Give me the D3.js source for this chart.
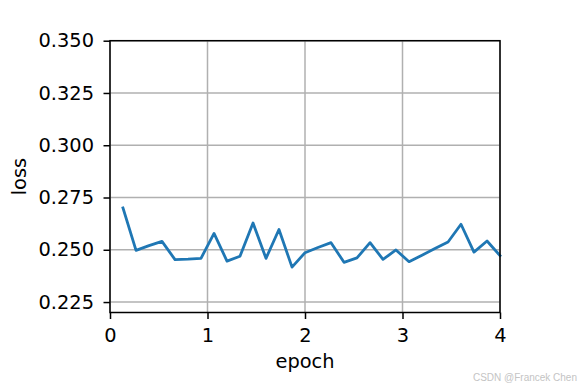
<!DOCTYPE html>
<html>
<head>
<meta charset="utf-8">
<script src="https://cdn.jsdelivr.net/npm/d3@7"></script>
<style>
  body { margin: 0; background: #fff; }
  svg { display: block; }
  text { font-family: "DejaVu Sans", sans-serif; }
</style>
</head>
<body>
<svg id="chart" width="582" height="388"></svg>
<script>
const epochs = [0.133, 0.267, 0.400, 0.533, 0.667, 0.800, 0.933, 1.067, 1.200, 1.333,
                1.467, 1.600, 1.733, 1.867, 2.000, 2.133, 2.267, 2.400, 2.533, 2.667,
                2.800, 2.933, 3.067, 3.200, 3.333, 3.467, 3.600, 3.733, 3.867, 4.000];
const loss = [0.2700, 0.2497, 0.2520, 0.2540, 0.2453, 0.2455, 0.2459, 0.2578, 0.2446, 0.2469,
              0.2628, 0.2459, 0.2597, 0.2417, 0.2486, 0.2511, 0.2534, 0.2440, 0.2461, 0.2534,
              0.2454, 0.2499, 0.2443, 0.2474, 0.2506, 0.2537, 0.2622, 0.2489, 0.2542, 0.2472];
const xTicks = [0, 1, 2, 3, 4];
const yTicks = [0.225, 0.250, 0.275, 0.300, 0.325, 0.350];

const FS = "19.4px";
const svg = d3.select("#chart");
const L = 110, R = 500, T = 40.7, B = 312.5;
const x = d3.scaleLinear().domain([0, 4]).range([L, R]);
const y = d3.scaleLinear().domain([0.22, 0.35]).range([B, T]);

// grid
svg.append("g").selectAll("line").data(xTicks).join("line")
  .attr("x1", d => x(d)).attr("x2", d => x(d)).attr("y1", T).attr("y2", B)
  .attr("stroke", "#b0b0b0").attr("stroke-width", 1.5);
svg.append("g").selectAll("line").data(yTicks).join("line")
  .attr("x1", L).attr("x2", R).attr("y1", d => y(d)).attr("y2", d => y(d))
  .attr("stroke", "#b0b0b0").attr("stroke-width", 1.5);

// line
svg.append("path")
  .datum(epochs.map((e, i) => [e, loss[i]]))
  .attr("fill", "none").attr("stroke", "#1f77b4").attr("stroke-width", 2.8)
  .attr("stroke-linejoin", "round").attr("stroke-linecap", "square")
  .attr("d", d3.line().x(d => x(d[0])).y(d => y(d[1])));

// axes
const xAxis = d3.axisBottom(x).tickValues(xTicks).tickFormat(d3.format("d")).tickSize(6.5).tickPadding(9.3);
const yAxis = d3.axisLeft(y).tickValues(yTicks).tickFormat(d3.format(".3f")).tickSize(6.5).tickPadding(9.5);
const gx = svg.append("g").attr("transform", `translate(0,${B})`).call(xAxis);
const gy = svg.append("g").attr("transform", `translate(${L},0)`).call(yAxis);
[gx, gy].forEach(g => {
  g.select(".domain").remove();
  g.selectAll(".tick line").attr("stroke", "#000").attr("stroke-width", 1.5);
  g.selectAll(".tick text").attr("fill", "#000").style("font-size", FS)
    .style("font-family", "'DejaVu Sans', sans-serif");
});

// spines
svg.append("rect").attr("x", L).attr("y", T).attr("width", R - L).attr("height", B - T)
  .attr("fill", "none").attr("stroke", "#000").attr("stroke-width", 1.5);

// labels
svg.append("text").attr("x", (L + R) / 2).attr("y", 367.7).attr("text-anchor", "middle")
  .style("font-size", FS).text("epoch");
svg.append("text").attr("transform", `translate(26,${(T + B) / 2}) rotate(-90)`)
  .attr("text-anchor", "middle").style("font-size", FS).text("loss");

// watermark
svg.append("text").attr("x", 577).attr("y", 381).attr("text-anchor", "end")
  .attr("fill", "#c4c4c4").style("font-size", "10px")
  .style("font-family", "'Liberation Sans', Arial, sans-serif").text("CSDN @Francek Chen");
</script>
</body>
</html>
